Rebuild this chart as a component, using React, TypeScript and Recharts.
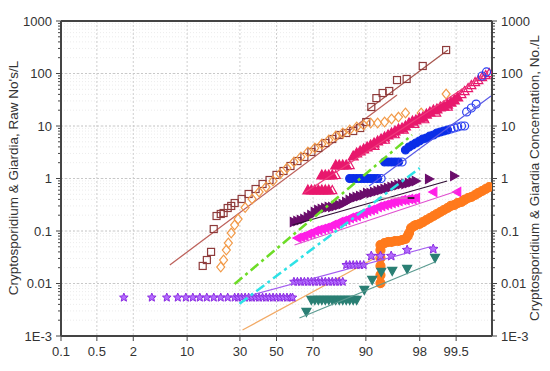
import React from 'react';
import { ScatterChart, Scatter, XAxis, YAxis, CartesianGrid, ReferenceLine } from 'recharts';

type Pair = [number, number];

// ---------- axis definitions ----------
const X_TICK_PCT = [0.1, 0.5, 2, 10, 30, 50, 70, 90, 98, 99.5];
const X_LABELS = ['0.1', '0.5', '2', '10', '30', '50', '70', '90', '98', '99.5'];
const X_MAX_PCT = 99.9;
const Y_DECADES = [0.001, 0.01, 0.1, 1, 10, 100, 1000];
const Y_LABELS = ['1E-3', '0.01', '0.1', '1', '10', '100', '1000'];

// ---------- data: [cumulative probability %, concentration] ----------
const brownSquares: Pair[] = [
  [14.5, 0.0216], [15.9, 0.028], [17.4, 0.04], [18.4, 0.109], [19.5, 0.193], [21.2, 0.211], [22.4, 0.22],
  [24.2, 0.274], [25.8, 0.3], [27.43, 0.341], [30.85, 0.407], [34.46, 0.507], [38.21, 0.631], [42.07, 0.786],
  [46.02, 0.936], [50, 1.17], [53.98, 1.39], [57.93, 1.73], [61.79, 2.15], [65.54, 2.57], [69.15, 3.2],
  [72.57, 3.81], [75.8, 4.74], [78.81, 5.65], [81.59, 6.74], [84.13, 7.36], [86.43, 8.03], [88.49, 9.16],
  [90.1, 11.9], [91.3, 23], [92.4, 34], [93.6, 42.5], [94.7, 46.4], [95.8, 75], [96.9, 78.6], [98.2, 139], [99.25, 280],
];
const orangeDiamonds: Pair[] = [
  [21.2, 0.0206], [22.4, 0.028], [23.6, 0.0434], [24.5, 0.059], [25.8, 0.0916], [27.4, 0.13], [29.1, 0.169],
  [32.64, 0.28], [36.32, 0.407], [40.13, 0.553], [44.04, 0.689], [48.01, 0.896], [51.99, 1.22], [55.96, 1.58],
  [59.87, 2.06], [63.68, 2.57], [67.36, 3.2], [70.88, 3.81], [74.22, 4.54], [77.34, 5.41], [80.23, 6.45],
  [82.89, 7.36], [85.31, 8.4], [87.49, 9.57], [89.44, 10.4], [91.15, 11.4], [92.65, 11.4], [93.94, 11.9],
  [95.05, 13.6], [95.99, 14.8], [96.78, 17.7], [98.1, 17.7], [99.25, 40.7],
];
const brownFitLow: Pair[] = [[6.3, 0.0225], [95.8, 39]];
const brownFitHigh: Pair[] = [[90.4, 20.2], [99.3, 280]];

const pinkStep1Pct = [67.36, 69.15, 70.88, 72.57, 74.22, 75.8, 77.34];
const pinkStep2Pct = [74.22, 75.8, 77.34, 78.81];
const pinkStep3Pct = [80.23, 81.59, 82.89, 84.13];
const pinkStepValues = [0.604, 1.17, 1.81];
const pinkBand: Pair[] = [
  [86.43, 2.68], [87.49, 3.06], [88.49, 3.34], [89.44, 3.65], [90.32, 3.98], [91.15, 4.35], [91.92, 4.74],
  [92.65, 5.18], [93.32, 5.65], [93.94, 6.17], [94.52, 6.74], [95.05, 7.36], [95.54, 8.03], [95.99, 8.77],
  [96.41, 9.16], [96.78, 10], [97.13, 11.4], [97.44, 12.4], [97.72, 13], [97.98, 14.2], [98.21, 14.8],
  [98.42, 16.9], [98.61, 18.5], [98.78, 20.2], [98.93, 21.1], [99.06, 23], [99.18, 24], [99.29, 26.2],
  [99.38, 28.6], [99.46, 31.3], [99.53, 35.7],
];
const pinkHollow: Pair[] = [
  [78.81, 0.604], [80.23, 1.17], [85.31, 1.81], [92.0, 4.2], [94.0, 5.5], [95.5, 7.0], [96.6, 8.6],
  [97.6, 11.0], [98.3, 13.5], [98.9, 18.0], [99.3, 23.5], [99.6, 40.7], [99.65, 46.4], [99.7, 53],
  [99.74, 60.4], [99.78, 68.9], [99.81, 75.2], [99.84, 85.8], [99.865, 93.6], [99.886, 102],
];
const pinkFit: Pair[] = [[65.5, 0.53], [99.88, 107]];

const blueStep1Pct = [85.31, 86.43, 87.49, 88.49, 89.44, 90.32, 91.15, 91.92, 92.65];
const blueStep2Pct = [93.94, 94.52, 95.05, 95.54, 95.99];
const blueStepValues = [1.0, 2.06];
const blueBand: Pair[] = [
  [96.78, 3.49], [97.13, 3.98], [97.44, 4.35], [97.72, 4.74], [97.98, 5.18], [98.21, 5.65], [98.42, 5.9],
  [98.61, 6.45], [98.78, 6.74], [98.93, 7.36], [99.06, 7.69], [99.18, 8.03], [99.29, 8.4],
];
const blueHollow: Pair[] = [
  [93.32, 1.0], [96.41, 2.06], [99.38, 8.77], [99.46, 9.16], [99.53, 9.57], [99.6, 10], [99.65, 10],
  [99.68, 18.5], [99.74, 22], [99.79, 26.2], [99.84, 89.6], [99.87, 107],
];
const blueFit: Pair[] = [[90.8, 0.72], [99.895, 37.3]];

const greenFit: Pair[] = [[27.4, 0.0098], [97.4, 6.74]];
const cyanFit: Pair[] = [[29.8, 0.0041], [98.0, 1.58]];

const darkPurple: Pair[] = [
  [59.87, 0.148], [61.79, 0.155], [63.68, 0.162], [65.54, 0.169], [67.36, 0.185], [69.15, 0.202],
  [70.88, 0.23], [72.57, 0.251], [74.22, 0.262], [75.8, 0.274], [77.34, 0.286], [78.81, 0.286], [80.23, 0.3],
  [81.59, 0.313], [82.89, 0.327], [84.13, 0.357], [85.31, 0.39], [86.43, 0.425], [87.49, 0.444],
  [88.49, 0.464], [89.44, 0.485], [90.32, 0.53], [91.15, 0.53], [91.92, 0.553], [92.65, 0.578],
  [93.32, 0.604], [93.94, 0.631], [94.52, 0.659], [95.05, 0.689], [95.54, 0.72], [95.99, 0.752],
  [96.41, 0.786], [96.78, 0.786], [97.13, 0.82], [97.44, 0.857], [97.72, 0.896], [98.57, 0.978], [99.46, 1.12],
];
const darkPurpleFit: Pair[] = [[59.1, 0.13], [99.28, 0.896]];

const magenta: Pair[] = [
  [61.79, 0.0736], [63.68, 0.0769], [65.54, 0.0803], [67.36, 0.0877], [69.15, 0.0916], [70.88, 0.1],
  [72.57, 0.104], [74.22, 0.109], [75.8, 0.114], [77.34, 0.119], [78.81, 0.13], [80.23, 0.136],
  [81.59, 0.148], [82.89, 0.155], [84.13, 0.162], [85.31, 0.177], [86.43, 0.185], [87.49, 0.193],
  [88.49, 0.211], [89.44, 0.22], [90.32, 0.24], [91.15, 0.251], [91.92, 0.262], [92.65, 0.286],
  [93.32, 0.3], [93.94, 0.313], [94.52, 0.327], [95.05, 0.341], [95.54, 0.357], [95.99, 0.373],
  [96.41, 0.39], [96.78, 0.39], [97.13, 0.407], [97.44, 0.407], [97.72, 0.425], [98.77, 0.553], [99.52, 0.553],
];
const magentaFit: Pair[] = [[60.2, 0.054], [99.52, 0.578]];
const magentaRefLine: Pair[] = [[92.65, 0.425], [97.3, 0.425]];
const magentaRefLineEnd: Pair[] = [[97.0, 0.425], [97.6, 0.425]];

const orangeCircles: Pair[] = [
  [93.2, 0.0102], [93.2, 0.0145], [93.2, 0.0216], [93.2, 0.0306], [93.2, 0.0434], [93.2, 0.054],
  [93.94, 0.059], [94.52, 0.0617], [95.05, 0.0617], [95.54, 0.0645], [95.99, 0.0645], [96.41, 0.0674],
  [96.78, 0.0704], [97.0, 0.0803], [97.13, 0.0916], [97.32, 0.114], [97.56, 0.124], [97.72, 0.13],
  [97.98, 0.136], [98.21, 0.148], [98.42, 0.162], [98.61, 0.177], [98.78, 0.193], [98.93, 0.211],
  [99.06, 0.23], [99.18, 0.251], [99.29, 0.274], [99.38, 0.3], [99.46, 0.313], [99.53, 0.341],
  [99.6, 0.357], [99.65, 0.39], [99.7, 0.425], [99.74, 0.444], [99.78, 0.485], [99.81, 0.53],
  [99.84, 0.578], [99.865, 0.631], [99.886, 0.689],
];
const orangeFit: Pair[] = [[31.3, 0.0013], [93.9, 0.0381]];

const starRow1Pct = [
  1.43, 3.69, 5.78, 7.84, 9.68, 11.51, 13.57, 15.87, 18.41, 21.19, 24.2, 27.43, 29.12, 30.85, 32.64,
  34.46, 36.32, 38.21, 40.13, 42.07, 44.04, 46.02, 48.01, 50, 51.99, 53.98, 55.96, 57.93, 59.1,
];
const starRow2Pct = [59.87, 61.79, 63.68, 65.54, 67.36, 69.15, 70.88, 72.57, 74.22, 75.8, 77.34, 78.81, 80.23, 81.59, 82.89];
const starRow3Pct = [84.13, 85.31, 86.43, 87.49, 88.49, 89.44];
const starRowValues = [0.0054, 0.0108, 0.0225];
const starSingles: Pair[] = [[91.3, 0.0334], [93.2, 0.0334], [95.0, 0.0334], [96.95, 0.0434], [98.77, 0.0454]];
const starFit: Pair[] = [[32.4, 0.00553], [98.67, 0.0507]];

const tealRowPct = [69.15, 70.88, 72.57, 74.22, 75.8, 77.34, 78.81, 80.23, 81.59, 82.89, 84.13, 85.31, 86.43, 87.49];
const tealRowValue = 0.00485;
const tealSingles: Pair[] = [[66.6, 0.00286], [89.6, 0.0075], [91.5, 0.0117], [93.35, 0.0166], [95.15, 0.0173], [96.95, 0.0189], [98.85, 0.0306]];
const tealFit: Pair[] = [[62.9, 0.0022], [98.85, 0.0257]];

// ---------- helpers ----------
function probit(p: number): number {
  const a = [-39.69683028665376, 220.9460984245205, -275.9285104469687, 138.357751867269, -30.66479806614716, 2.506628277459239];
  const b = [-54.47609879822406, 161.5858368580409, -155.6989798598866, 66.80131188771972, -13.28068155288572];
  const c = [-0.007784894002430293, -0.3223964580411365, -2.400758277161838, -2.549732539343734, 4.374664141464968, 2.938163982698783];
  const d = [0.007784695709041462, 0.3224671290700398, 2.445134137142996, 3.754408661907416];
  const plow = 0.02425;
  if (p < plow) {
    const q = Math.sqrt(-2 * Math.log(p));
    return (((((c[0] * q + c[1]) * q + c[2]) * q + c[3]) * q + c[4]) * q + c[5]) / ((((d[0] * q + d[1]) * q + d[2]) * q + d[3]) * q + 1);
  }
  if (p > 1 - plow) {
    const q = Math.sqrt(-2 * Math.log(1 - p));
    return -(((((c[0] * q + c[1]) * q + c[2]) * q + c[3]) * q + c[4]) * q + c[5]) / ((((d[0] * q + d[1]) * q + d[2]) * q + d[3]) * q + 1);
  }
  const q = p - 0.5;
  const r = q * q;
  return (((((a[0] * r + a[1]) * r + a[2]) * r + a[3]) * r + a[4]) * r + a[5]) * q / (((((b[0] * r + b[1]) * r + b[2]) * r + b[3]) * r + b[4]) * r + 1);
}
const pts = (arr: Pair[]) => arr.map(([p, v]) => ({ z: probit(p / 100), v }));
const row = (ps: number[], v: number): Pair[] => ps.map((p) => [p, v] as Pair);

const xTicks = X_TICK_PCT.map((p) => probit(p / 100));
const xDomain: [number, number] = [probit(X_TICK_PCT[0] / 100), probit(X_MAX_PCT / 100)];
const yTicks: number[] = [];
Y_DECADES.forEach((d, i) => {
  yTicks.push(d);
  if (i < Y_DECADES.length - 1) for (let k = 2; k <= 9; k++) yTicks.push(+(k * d).toPrecision(3));
});
const isMajor = (v: number) => Math.abs(Math.log10(v) - Math.round(Math.log10(v))) < 1e-6;
const yLabel = (v: number) => Y_LABELS[Y_DECADES.findIndex((d) => Math.abs(Math.log10(d) - Math.log10(v)) < 1e-6)];

const FONT = 'Liberation Sans, Arial, sans-serif';
const AXIS = '#444';
const TXT = '#333';

// ---------- marker shapes ----------
type Kind = 'square' | 'diamond' | 'up' | 'down' | 'left' | 'right' | 'circle' | 'star' | 'none';
const marker = (kind: Kind, color: string, filled: boolean, s: number, fill?: string) => (props: any) => {
  const { cx, cy } = props;
  if (kind === 'none' || cx == null || cy == null) return <g />;
  const f = filled ? (fill || color) : 'none';
  const sw = 1.2;
  const h = s / 2;
  switch (kind) {
    case 'square':
      return <rect x={cx - h} y={cy - h} width={s} height={s} fill={f} stroke={color} strokeWidth={sw} />;
    case 'diamond':
      return <polygon points={`${cx},${cy - h * 1.2} ${cx + h},${cy} ${cx},${cy + h * 1.2} ${cx - h},${cy}`} fill={f} stroke={color} strokeWidth={sw} />;
    case 'up':
      return <polygon points={`${cx},${cy - h} ${cx + h},${cy + h * 0.8} ${cx - h},${cy + h * 0.8}`} fill={f} stroke={color} strokeWidth={sw} />;
    case 'down':
      return <polygon points={`${cx},${cy + h} ${cx + h},${cy - h * 0.8} ${cx - h},${cy - h * 0.8}`} fill={f} stroke={color} strokeWidth={sw} />;
    case 'right':
      return <polygon points={`${cx + h},${cy} ${cx - h * 0.8},${cy - h} ${cx - h * 0.8},${cy + h}`} fill={f} stroke={color} strokeWidth={sw} />;
    case 'left':
      return <polygon points={`${cx - h},${cy} ${cx + h * 0.8},${cy - h} ${cx + h * 0.8},${cy + h}`} fill={f} stroke={color} strokeWidth={sw} />;
    case 'circle':
      return <circle cx={cx} cy={cy} r={h} fill={f} stroke={color} strokeWidth={sw} />;
    case 'star': {
      const p: string[] = [];
      for (let i = 0; i < 10; i++) {
        const r = i % 2 === 0 ? h : h * 0.45;
        const a = -Math.PI / 2 + (i * Math.PI) / 5;
        p.push(`${cx + r * Math.cos(a)},${cy + r * Math.sin(a)}`);
      }
      return <polygon points={p.join(' ')} fill={f} stroke={color} strokeWidth={1} />;
    }
    default:
      return <g />;
  }
};
const noShape = marker('none', '', false, 0);

// ---------- ticks ----------
const LeftTick = (props: any) => {
  const { x, y, payload } = props;
  const v = payload.value;
  const major = isMajor(v);
  return (
    <g>
      <line x1={x} x2={x - (major ? 5 : 3)} y1={y} y2={y} stroke={AXIS} strokeWidth={1} />
      {major && (
        <text x={x - 9} y={y} dy={4.6} textAnchor="end" fontSize={13} fill={TXT} fontFamily={FONT}>{yLabel(v)}</text>
      )}
    </g>
  );
};
const RightTick = (props: any) => {
  const { x, y, payload } = props;
  const v = payload.value;
  const major = isMajor(v);
  return (
    <g>
      <line x1={x} x2={x + (major ? 5 : 3)} y1={y} y2={y} stroke={AXIS} strokeWidth={1} />
      {major && (
        <text x={x + 9} y={y} dy={4.6} textAnchor="start" fontSize={13} fill={TXT} fontFamily={FONT}>{yLabel(v)}</text>
      )}
    </g>
  );
};
const BottomTick = (props: any) => {
  const { x, y, payload } = props;
  const i = xTicks.findIndex((t) => Math.abs(t - payload.value) < 1e-6);
  return (
    <g>
      <line x1={x} x2={x} y1={y} y2={y + 5} stroke={AXIS} strokeWidth={1} />
      <text x={x} y={y + 20} textAnchor="middle" fontSize={13} fill={TXT} fontFamily={FONT}>{X_LABELS[i]}</text>
    </g>
  );
};

const series: { data: Pair[]; shape: any; line?: any }[] = [
  { data: brownFitLow, shape: noShape, line: { stroke: '#bd625c', strokeWidth: 1.3 } },
  { data: brownFitHigh, shape: noShape, line: { stroke: '#a8574f', strokeWidth: 1.3 } },
  { data: brownSquares, shape: marker('square', '#8e3b3b', false, 7) },
  { data: orangeDiamonds, shape: marker('diamond', '#f29a48', false, 8) },
  { data: darkPurple, shape: marker('right', '#6b0d6b', true, 9) },
  { data: darkPurpleFit, shape: noShape, line: { stroke: '#2e0d33', strokeWidth: 1.2 } },
  { data: magenta, shape: marker('left', '#ff1ee6', true, 9) },
  { data: magentaFit, shape: noShape, line: { stroke: '#e050d0', strokeWidth: 1.1 } },
  { data: magentaRefLine, shape: noShape, line: { stroke: '#c898a8', strokeWidth: 1.2 } },
  { data: magentaRefLineEnd, shape: noShape, line: { stroke: '#111', strokeWidth: 1.6 } },
  { data: row(pinkStep1Pct, pinkStepValues[0]), shape: marker('up', '#e8186d', true, 10) },
  { data: row(pinkStep2Pct, pinkStepValues[1]), shape: marker('up', '#e8186d', true, 10) },
  { data: row(pinkStep3Pct, pinkStepValues[2]), shape: marker('up', '#e8186d', true, 10) },
  { data: pinkBand, shape: marker('up', '#e8186d', true, 10) },
  { data: pinkHollow, shape: marker('up', '#e8186d', false, 9) },
  { data: pinkFit, shape: noShape, line: { stroke: '#ee3a7c', strokeWidth: 1.3 } },
  { data: row(blueStep1Pct, blueStepValues[0]), shape: marker('circle', '#0a2ee8', true, 8) },
  { data: row(blueStep2Pct, blueStepValues[1]), shape: marker('circle', '#0a2ee8', true, 8) },
  { data: blueBand, shape: marker('circle', '#0a2ee8', true, 8) },
  { data: blueHollow, shape: marker('circle', '#2a3ef0', false, 8) },
  { data: blueFit, shape: noShape, line: { stroke: '#5a5ae6', strokeWidth: 1.2 } },
  { data: orangeCircles, shape: marker('circle', '#ff7a1c', true, 9) },
  { data: orangeFit, shape: noShape, line: { stroke: '#f2aa66', strokeWidth: 1.2 } },
  { data: row(starRow1Pct, starRowValues[0]), shape: marker('star', '#8a2be2', true, 9, '#b46cff') },
  { data: row(starRow2Pct, starRowValues[1]), shape: marker('star', '#8a2be2', true, 9, '#b46cff') },
  { data: row(starRow3Pct, starRowValues[2]), shape: marker('star', '#8a2be2', true, 9, '#b46cff') },
  { data: starSingles, shape: marker('star', '#8a2be2', true, 10, '#b46cff') },
  { data: starFit, shape: noShape, line: { stroke: '#a35cf0', strokeWidth: 1.2 } },
  { data: row(tealRowPct, tealRowValue), shape: marker('down', '#2a7f74', true, 9) },
  { data: tealSingles, shape: marker('down', '#2a7f74', true, 9) },
  { data: tealFit, shape: noShape, line: { stroke: '#5a9a90', strokeWidth: 1.2 } },
  { data: greenFit, shape: noShape, line: { stroke: '#6ddc26', strokeWidth: 2.5, strokeDasharray: '10 4 3 4' } },
  { data: cyanFit, shape: noShape, line: { stroke: '#2ee2e6', strokeWidth: 2.5, strokeDasharray: '10 4 3 4' } },
];

export default function App() {
  return (
    <div style={{ position: 'absolute', left: 0, top: 0, width: 550, height: 371, background: '#fff' }}>
      <ScatterChart width={550} height={371} margin={{ top: 21, right: 8, bottom: 5, left: 8 }}>
        <CartesianGrid yAxisId="left" vertical={false} stroke="#ececec" strokeDasharray="1 2" />
        <CartesianGrid yAxisId="left" horizontal={false} stroke="#cfcfcf" strokeDasharray="2 2" />
        {Y_DECADES.slice(1, -1).map((d) => (
          <ReferenceLine key={d} yAxisId="left" y={d} stroke="#c8c8c8" strokeDasharray="2 2" />
        ))}
        <XAxis
          dataKey="z"
          type="number"
          domain={xDomain}
          ticks={xTicks}
          interval={0}
          allowDataOverflow
          height={30}
          tickSize={0}
          tickMargin={0}
          tickLine={false}
          tick={<BottomTick />}
          axisLine={{ stroke: AXIS, strokeWidth: 2 }}
        />
        <YAxis
          yAxisId="left"
          dataKey="v"
          type="number"
          scale="log"
          domain={[0.001, 1000]}
          ticks={yTicks}
          interval={0}
          allowDataOverflow
          width={53}
          tickSize={0}
          tickMargin={0}
          tickLine={false}
          tick={<LeftTick />}
          axisLine={{ stroke: AXIS, strokeWidth: 2 }}
        />
        <YAxis
          yAxisId="right"
          orientation="right"
          dataKey="v"
          type="number"
          scale="log"
          domain={[0.001, 1000]}
          ticks={yTicks}
          interval={0}
          allowDataOverflow
          width={50}
          tickSize={0}
          tickMargin={0}
          tickLine={false}
          tick={<RightTick />}
          axisLine={{ stroke: AXIS, strokeWidth: 2 }}
        />
        <ReferenceLine yAxisId="left" y={1000} stroke={AXIS} strokeWidth={2} />
        {series.map((s, i) => (
          <Scatter
            key={i}
            yAxisId="left"
            data={pts(s.data)}
            shape={s.shape}
            line={s.line || false}
            fill="none"
            isAnimationActive={false}
          />
        ))}
      </ScatterChart>
      <svg width={550} height={371} style={{ position: 'absolute', left: 0, top: 0, pointerEvents: 'none' }}>
        <text
          x={13}
          y={178}
          transform="rotate(-90, 13, 178)"
          textAnchor="middle"
          dy={4.5}
          fontSize={13.5}
          fill={TXT}
          fontFamily={FONT}
        >
          Cryptosporidium &amp; Giardia, Raw No's/L
        </text>
        <text
          x={534}
          y={178}
          transform="rotate(-90, 534, 178)"
          textAnchor="middle"
          dy={4.5}
          fontSize={13.5}
          fill={TXT}
          fontFamily={FONT}
        >
          Cryptosporidium &amp; Giardia Concentration, No./L
        </text>
      </svg>
    </div>
  );
}
